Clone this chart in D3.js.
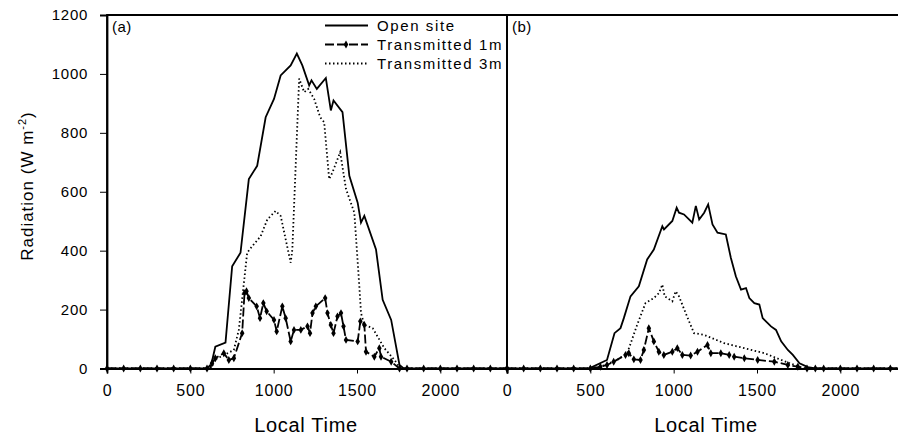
<!DOCTYPE html>
<html>
<head>
<meta charset="utf-8">
<script src="https://cdn.jsdelivr.net/npm/d3@7"></script>
<style>
  body { margin: 0; background: #fff; }
  svg { display: block; font-family: Arial, "Liberation Sans", sans-serif; }
</style>
</head>
<body>
<svg id="chart" width="898" height="438"></svg>
<script>
// ---- data (local time HHMM, radiation W m-2)
var nightAM = [0, 100, 200, 300, 400, 500];
var nightPM = [1900, 2000, 2100, 2200, 2300, 2400];

var openA = [[600, 0], [620, 0], [650, 74], [711, 88], [751, 347], [801, 393], [851, 643], [901, 688], [952, 853],
  [1002, 915], [1042, 995], [1102, 1029], [1139, 1069], [1172, 1029], [1213, 961], [1227, 978], [1259, 949],
  [1313, 986], [1343, 876], [1359, 910], [1413, 870], [1454, 654], [1504, 563], [1524, 495], [1544, 518],
  [1614, 404], [1654, 233], [1705, 165], [1755, 12], [1780, 0], [1800, 0]];
var trans1A = [[600, 0], [630, 18], [650, 35], [701, 52], [731, 29], [761, 35], [811, 120], [825, 256], [837, 262],
  [851, 239], [898, 211], [918, 171], [938, 222], [958, 194], [1002, 165], [1018, 126], [1052, 211], [1072, 171],
  [1102, 92], [1122, 131], [1163, 131], [1203, 143], [1218, 120], [1233, 188], [1253, 211], [1309, 239],
  [1323, 188], [1343, 148], [1359, 120], [1383, 177], [1404, 188], [1419, 143], [1434, 97], [1504, 92],
  [1520, 160], [1544, 148], [1554, 57], [1604, 40], [1634, 69], [1644, 40], [1705, 23], [1755, 0], [1800, 0]];
var trans3A = [[600, 0], [630, 0], [641, 29], [701, 45], [761, 63], [791, 131], [841, 393], [871, 415], [922, 449],
  [962, 506], [1012, 535], [1042, 518], [1102, 359], [1112, 404], [1153, 984], [1183, 938], [1207, 949],
  [1243, 915], [1279, 853], [1303, 836], [1333, 643], [1353, 666], [1399, 734], [1434, 609], [1484, 529],
  [1514, 279], [1524, 188], [1544, 148], [1594, 137], [1624, 108], [1664, 69], [1725, 29], [1760, 0], [1800, 0]];

var openB = [[500, 2], [600, 29], [645, 120], [681, 137], [701, 171], [741, 245], [791, 279], [841, 370], [881, 404],
  [932, 483], [942, 472], [992, 501], [1018, 546], [1032, 529], [1062, 523], [1112, 495], [1133, 552],
  [1153, 506], [1183, 529], [1207, 557], [1233, 489], [1263, 461], [1313, 455], [1343, 376], [1373, 313],
  [1404, 268], [1434, 273], [1454, 239], [1484, 222], [1514, 217], [1534, 171], [1584, 143], [1614, 131],
  [1645, 92], [1685, 63], [1715, 46], [1755, 18], [1805, 5], [1850, 0]];
var trans1B = [[560, 6], [600, 12], [640, 23], [711, 46], [731, 52], [761, 31], [801, 29], [821, 63], [851, 137],
  [881, 92], [911, 57], [941, 46], [992, 57], [1022, 69], [1052, 46], [1102, 44], [1143, 57], [1203, 80],
  [1223, 52], [1283, 52], [1333, 46], [1363, 40], [1424, 35], [1504, 29], [1604, 23], [1685, 12], [1745, 6],
  [1800, 0], [1850, 0]];
var trans3B = [[500, 0], [560, 6], [661, 29], [721, 52], [781, 148], [831, 222], [881, 239], [912, 256], [932, 285],
  [946, 245], [992, 228], [1012, 262], [1032, 245], [1072, 188], [1122, 120], [1183, 114], [1303, 86],
  [1424, 69], [1544, 52], [1645, 29], [1725, 12], [1780, 0], [1850, 0]];

var xTicks = [0, 500, 1000, 1500, 2000];
var yTicks = [0, 200, 400, 600, 800, 1000, 1200];
var legendNames = ["Open site", "Transmitted 1m", "Transmitted 3m"];

function withNight(s) {
  return nightAM.map(function (t) { return [t, 0]; })
    .concat(s)
    .concat(nightPM.map(function (t) { return [t, 0]; }));
}

var svg = d3.select("#chart");
var plotTop = 15, plotBottom = 368.5, panelW = 400;
var y = d3.scaleLinear().domain([0, 1200]).range([plotBottom, plotTop]);

function drawPanel(x0, label, open, t1, t3, showY) {
  var x = d3.scaleLinear().domain([0, 2400]).range([x0, x0 + panelW]);
  var g = svg.append("g");

  var line = d3.line().x(function (d) { return x(d[0]); }).y(function (d) { return y(d[1]); });

  // frame
  g.append("path")
    .attr("d", "M" + x0 + "," + plotBottom + "V" + plotTop + "H" + (x0 + panelW) + "V" + plotBottom)
    .attr("fill", "none").attr("stroke", "#000").attr("stroke-width", 1.8);

  var xAxis = g.append("g").attr("transform", "translate(0," + plotBottom + ")")
    .call(d3.axisBottom(x).tickValues(xTicks).tickSize(5).tickPadding(11).tickFormat(d3.format("d")));
  xAxis.select(".domain").attr("stroke-width", 1.8);
  xAxis.selectAll("text").attr("font-size", 16).attr("letter-spacing", 0.8).attr("fill", "#000");

  if (showY) {
    var yAxis = g.append("g").attr("transform", "translate(" + x0 + ",0)")
      .call(d3.axisLeft(y).tickValues(yTicks).tickSize(7).tickPadding(12).tickFormat(d3.format("d")));
    yAxis.select(".domain").attr("stroke-width", 1.8);
    yAxis.selectAll("text").attr("font-size", 15).attr("letter-spacing", 0.7).attr("fill", "#000");
  }

  g.append("path").datum(withNight(t3)).attr("d", line)
    .attr("fill", "none").attr("stroke", "#000").attr("stroke-width", 1.8)
    .attr("stroke-dasharray", "1.5,2.5");

  var d1 = withNight(t1);
  g.append("path").datum(d1).attr("d", line)
    .attr("fill", "none").attr("stroke", "#000").attr("stroke-width", 1.8)
    .attr("stroke-dasharray", "9,3");
  g.selectAll(".mk").data(d1).join("path")
    .attr("transform", function (d) { return "translate(" + x(d[0]) + "," + y(d[1]) + ")"; })
    .attr("d", d3.symbol().type(d3.symbolDiamond).size(18))
    .attr("fill", "#000");

  g.append("path").datum(withNight(open)).attr("d", line)
    .attr("fill", "none").attr("stroke", "#000").attr("stroke-width", 1.8);

  g.append("text").attr("x", x0 + 5).attr("y", plotTop + 17)
    .attr("font-size", 15).attr("letter-spacing", 0.5).text(label);

  g.append("text").attr("x", x0 + 199).attr("y", 432)
    .attr("text-anchor", "middle").attr("font-size", 20).attr("letter-spacing", 0.7).text("Local Time");
}

drawPanel(107, "(a)", openA, trans1A, trans3A, true);
drawPanel(507, "(b)", openB, trans1B, trans3B, false);

// y axis title
var yt = svg.append("text").attr("transform", "translate(33,186) rotate(-90)")
  .attr("text-anchor", "middle").attr("font-size", 17).attr("letter-spacing", 1);
yt.append("tspan").text("Radiation (W m");
yt.append("tspan").attr("font-size", 11).attr("dy", -7).text("-2");
yt.append("tspan").attr("dy", 7).text(")");

// legend
var legend = svg.append("g");
var styles = [null, "9,3", "1.5,2.5"];
legendNames.forEach(function (name, i) {
  var ly = 25.5 + i * 19;
  legend.append("line").attr("x1", 325).attr("x2", 368).attr("y1", ly).attr("y2", ly)
    .attr("stroke", "#000").attr("stroke-width", 1.8)
    .attr("stroke-dasharray", styles[i]);
  if (i === 1) {
    legend.append("path").attr("transform", "translate(346," + ly + ")")
      .attr("d", d3.symbol().type(d3.symbolDiamond).size(18)).attr("fill", "#000");
  }
  legend.append("text").attr("x", 377).attr("y", ly + 5.5).attr("font-size", 15)
    .attr("letter-spacing", 1.6).text(name);
});
</script>
</body>
</html>
